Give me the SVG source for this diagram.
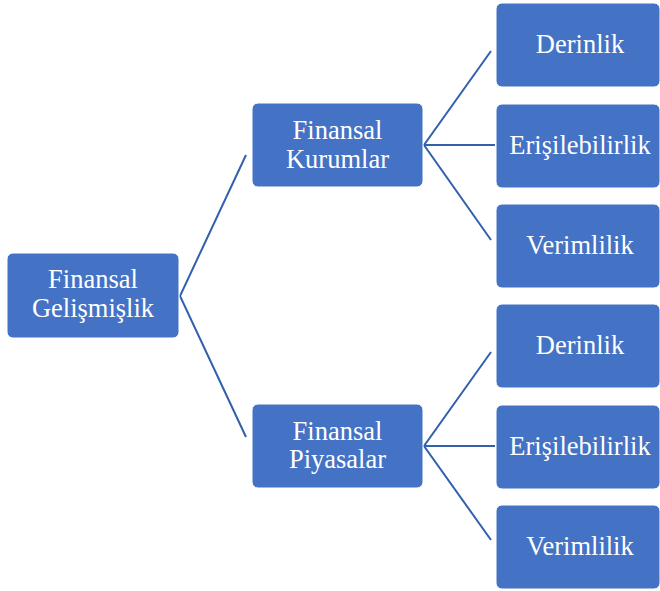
<svg xmlns="http://www.w3.org/2000/svg" width="660" height="591" viewBox="0 0 660 591">
<style>
.box{fill:#4472C4;stroke:#ffffff;stroke-width:1}
.t{fill:#ffffff;font-family:"Liberation Serif","Times New Roman",serif;font-size:26.5px;text-anchor:middle}
.c{stroke:#3360AC;stroke-width:2;fill:none}
</style>
<rect width="660" height="591" fill="#ffffff"/>
<g id="connectors">
<polyline class="c" points="246,155 180,296 246,437"/>
<polyline class="c" points="491,51 424,145 491,240"/>
<line class="c" x1="424" y1="145" x2="495" y2="145"/>
<polyline class="c" points="491,352 424,446 491,540"/>
<line class="c" x1="424" y1="446" x2="495" y2="446"/>
</g>
<g id="root">
<rect class="box" x="7" y="253" width="172" height="85" rx="6"/>
<text class="t" x="93" y="288">Finansal</text>
<text class="t" x="93" y="317">Gelişmişlik</text>
</g>
<g id="kurumlar">
<rect class="box" x="252" y="103" width="171" height="84" rx="6"/>
<text class="t" x="337.5" y="139">Finansal</text>
<text class="t" x="337.5" y="168">Kurumlar</text>
</g>
<g id="piyasalar">
<rect class="box" x="252" y="404" width="171" height="84" rx="6"/>
<text class="t" x="337.5" y="440">Finansal</text>
<text class="t" x="337.5" y="468">Piyasalar</text>
</g>
<g id="k-derinlik">
<rect class="box" x="496" y="3" width="164" height="84" rx="6"/>
<text class="t" x="580" y="53">Derinlik</text>
</g>
<g id="k-erisilebilirlik">
<rect class="box" x="496" y="104" width="164" height="84" rx="6"/>
<text class="t" x="580" y="154">Erişilebilirlik</text>
</g>
<g id="k-verimlilik">
<rect class="box" x="496" y="204" width="164" height="84" rx="6"/>
<text class="t" x="580" y="254">Verimlilik</text>
</g>
<g id="p-derinlik">
<rect class="box" x="496" y="304" width="164" height="84" rx="6"/>
<text class="t" x="580" y="354">Derinlik</text>
</g>
<g id="p-erisilebilirlik">
<rect class="box" x="496" y="405" width="164" height="84" rx="6"/>
<text class="t" x="580" y="455">Erişilebilirlik</text>
</g>
<g id="p-verimlilik">
<rect class="box" x="496" y="505" width="164" height="84" rx="6"/>
<text class="t" x="580" y="555">Verimlilik</text>
</g>
</svg>
